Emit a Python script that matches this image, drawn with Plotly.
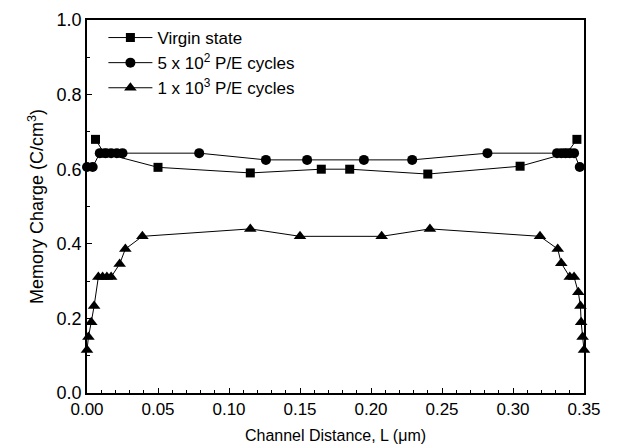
import plotly.graph_objects as go

# Virgin state
virgin_x = [0.006, 0.012, 0.050, 0.115, 0.165, 0.185, 0.240, 0.305, 0.338, 0.345]
virgin_y = [0.680, 0.643, 0.605, 0.590, 0.600, 0.600, 0.587, 0.608, 0.643, 0.680]

# 5 x 10^2 P/E cycles
pe500_x = [0.000, 0.004, 0.009, 0.013, 0.017, 0.021, 0.025, 0.079, 0.126, 0.155,
           0.195, 0.229, 0.282, 0.331, 0.334, 0.337, 0.340, 0.343, 0.347, 0.351]
pe500_y = [0.606, 0.606, 0.643, 0.643, 0.643, 0.643, 0.643, 0.643, 0.625, 0.625,
           0.625, 0.625, 0.643, 0.643, 0.643, 0.643, 0.643, 0.643, 0.606, 0.606]

# 1 x 10^3 P/E cycles
pe1000_x = [0.000, 0.001, 0.003, 0.005, 0.008, 0.011, 0.014, 0.017, 0.023, 0.027,
            0.039, 0.115, 0.150, 0.2075, 0.2415, 0.319, 0.3315, 0.334, 0.340,
            0.343, 0.346, 0.3475, 0.348, 0.349, 0.350]
pe1000_y = [0.115, 0.150, 0.190, 0.233, 0.311, 0.311, 0.311, 0.311, 0.346, 0.386,
            0.420, 0.440, 0.420, 0.420, 0.440, 0.420, 0.386, 0.348, 0.311,
            0.311, 0.270, 0.233, 0.190, 0.150, 0.115]

x_ticks = [0.00, 0.05, 0.10, 0.15, 0.20, 0.25, 0.30, 0.35]
y_ticks = [0.0, 0.2, 0.4, 0.6, 0.8, 1.0]

font = "Liberation Sans, Arial, sans-serif"
fig = go.Figure()
series = [
    (virgin_x, virgin_y, "square", 9, "Virgin state"),
    (pe500_x, pe500_y, "circle", 10, "5 x 10<sup>2</sup> P/E cycles"),
    (pe1000_x, pe1000_y, "triangle-up", 11, "1 x 10<sup>3</sup> P/E cycles"),
]
for xs, ys, sym, sz, name in series:
    fig.add_trace(go.Scatter(
        x=xs, y=ys, mode="lines+markers", name=name, cliponaxis=False,
        line=dict(color="black", width=1),
        marker=dict(symbol=sym, size=sz, color="black"),
    ))

fig.update_layout(
    width=627, height=448,
    margin=dict(l=79, r=51, t=12, b=63),
    paper_bgcolor="white", plot_bgcolor="white",
    font=dict(family=font, size=16, color="black"),
    showlegend=True,
    legend=dict(x=0.033, y=1.0, xanchor="left", yanchor="top",
                bgcolor="rgba(0,0,0,0)", font=dict(size=17),
                itemwidth=44, tracegroupgap=0),
)
fig.update_xaxes(
    range=[0, 0.35], tickvals=x_ticks, tickformat=".2f", automargin=False,
    tickfont=dict(size=17),
    ticks="inside", ticklen=5, tickwidth=1, tickcolor="black",
    minor=dict(dtick=0.01, ticks="inside", ticklen=3, tickcolor="black"),
    showline=True, linecolor="black", linewidth=1.5, mirror=True,
    showgrid=False, zeroline=False,
    title=dict(text="Channel Distance, L (\u03bcm)", font=dict(size=16), standoff=12),
)
fig.update_yaxes(
    range=[0, 1.0], tickvals=y_ticks, tickformat=".1f", automargin=False,
    tickfont=dict(size=18),
    ticks="inside", ticklen=5, tickwidth=1, tickcolor="black",
    minor=dict(dtick=0.1, ticks="inside", ticklen=3, tickcolor="black"),
    showline=True, linecolor="black", linewidth=1.5, mirror=True,
    showgrid=False, zeroline=False,
    title=dict(text="Memory Charge (C/cm<sup>3</sup>)", font=dict(size=18), standoff=8),
)
fig.write_html("out.html")
